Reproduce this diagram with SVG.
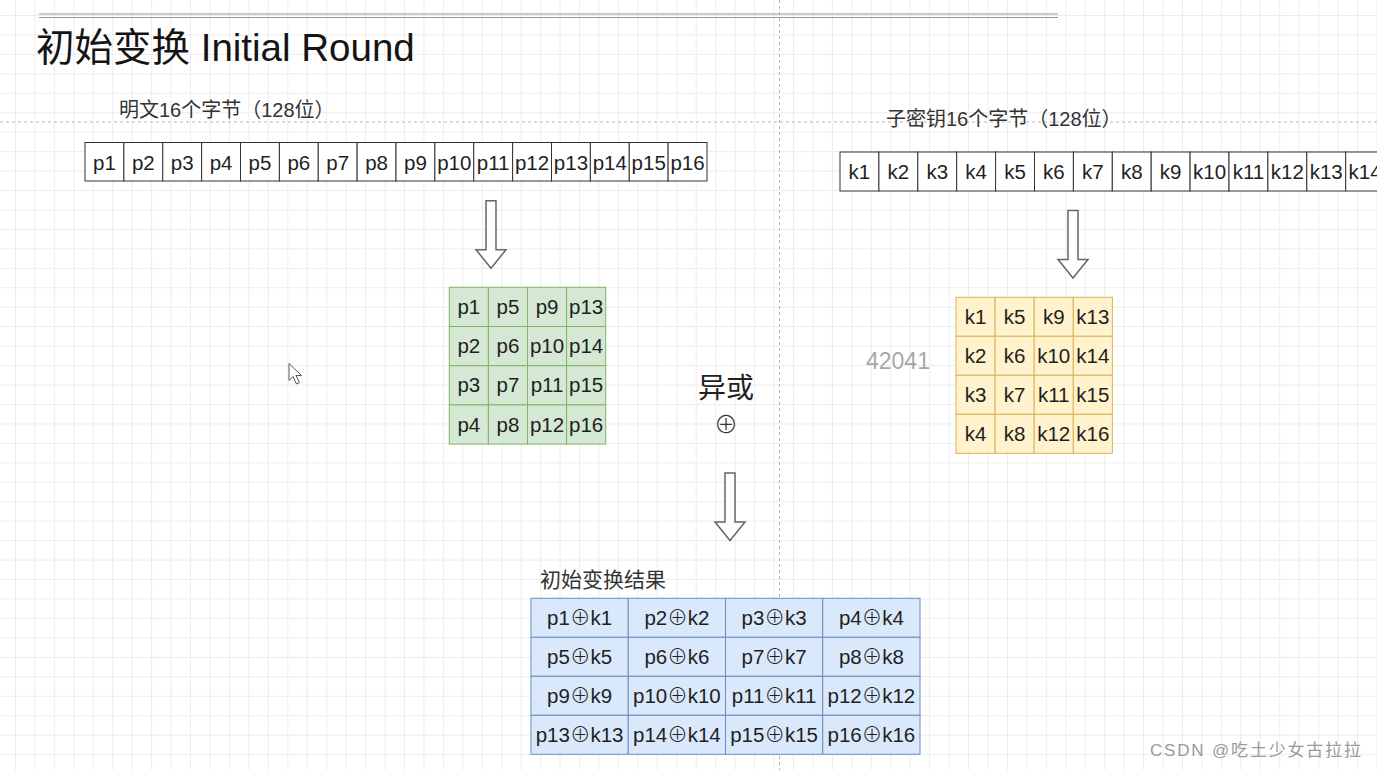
<svg xmlns="http://www.w3.org/2000/svg" width="1377" height="770" viewBox="0 0 1377 770">
<style>
text{font-family:"Liberation Sans","Noto Sans CJK SC",sans-serif;}
.c{font-size:20.5px;fill:#1f1f1f;text-anchor:middle;}
.x{font-family:"Noto Sans CJK SC","DejaVu Sans",sans-serif;font-weight:300;}
.wc{fill:#ffffff;stroke:#333333;stroke-width:1;}
.gc{fill:#d5e8d4;stroke:#82b366;stroke-width:1;}
.yc{fill:#fff2cc;stroke:#d6b656;stroke-width:1;}
.bc{fill:#dae8fc;stroke:#6c8ebf;stroke-width:1;}
.lbl{font-size:20px;fill:#333333;}
.arr{fill:#ffffff;stroke:#666666;stroke-width:1.5;}
</style>
<defs>
<pattern id="grid" x="15" y="15" width="19.45" height="19.45" patternUnits="userSpaceOnUse">
<path d="M0 0.5H19.45M0.5 0V19.45" fill="none" stroke="#ececec" stroke-width="1"/>
</pattern>
<path id="dn" d="M-5 0H5V49H15L0 67.5L-15 49H-5Z"/>
</defs>
<rect width="1377" height="770" fill="#ffffff"/>
<rect width="1377" height="770" fill="url(#grid)"/>
<g id="guides" fill="none" stroke="#b8b8b8" stroke-width="1" stroke-dasharray="3 3">
<line x1="0" y1="122" x2="1377" y2="122"/>
<line x1="779.5" y1="0" x2="779.5" y2="770"/>
</g>
<g id="topline" stroke="#999999" stroke-width="1.2">
<line x1="39" y1="14" x2="1058" y2="14"/>
<line x1="39" y1="17.5" x2="1058" y2="17.5"/>
</g>
<g id="title"><text x="36" y="61" font-size="38.5" fill="#141414">初始变换 Initial Round</text></g>
<g id="label-plain"><text class="lbl" x="119" y="117">明文16个字节（128位）</text></g>
<g id="label-key"><text class="lbl" x="886" y="126">子密钥16个字节（128位）</text></g>

<g id="plain-row">
<rect class="wc" x="85" y="142.5" width="38.875" height="38.5"/><text class="c" x="104.44" y="169.5">p1</text>
<rect class="wc" x="123.875" y="142.5" width="38.875" height="38.5"/><text class="c" x="143.31" y="169.5">p2</text>
<rect class="wc" x="162.75" y="142.5" width="38.875" height="38.5"/><text class="c" x="182.19" y="169.5">p3</text>
<rect class="wc" x="201.625" y="142.5" width="38.875" height="38.5"/><text class="c" x="221.06" y="169.5">p4</text>
<rect class="wc" x="240.5" y="142.5" width="38.875" height="38.5"/><text class="c" x="259.94" y="169.5">p5</text>
<rect class="wc" x="279.375" y="142.5" width="38.875" height="38.5"/><text class="c" x="298.81" y="169.5">p6</text>
<rect class="wc" x="318.25" y="142.5" width="38.875" height="38.5"/><text class="c" x="337.69" y="169.5">p7</text>
<rect class="wc" x="357.125" y="142.5" width="38.875" height="38.5"/><text class="c" x="376.56" y="169.5">p8</text>
<rect class="wc" x="396" y="142.5" width="38.875" height="38.5"/><text class="c" x="415.44" y="169.5">p9</text>
<rect class="wc" x="434.875" y="142.5" width="38.875" height="38.5"/><text class="c" x="454.31" y="169.5">p10</text>
<rect class="wc" x="473.75" y="142.5" width="38.875" height="38.5"/><text class="c" x="493.19" y="169.5">p11</text>
<rect class="wc" x="512.625" y="142.5" width="38.875" height="38.5"/><text class="c" x="532.06" y="169.5">p12</text>
<rect class="wc" x="551.5" y="142.5" width="38.875" height="38.5"/><text class="c" x="570.94" y="169.5">p13</text>
<rect class="wc" x="590.375" y="142.5" width="38.875" height="38.5"/><text class="c" x="609.81" y="169.5">p14</text>
<rect class="wc" x="629.25" y="142.5" width="38.875" height="38.5"/><text class="c" x="648.69" y="169.5">p15</text>
<rect class="wc" x="668.125" y="142.5" width="38.875" height="38.5"/><text class="c" x="687.56" y="169.5">p16</text>
</g>

<g id="key-row">
<rect class="wc" x="840" y="152" width="38.9" height="39"/><text class="c" x="859.45" y="179">k1</text>
<rect class="wc" x="878.9" y="152" width="38.9" height="39"/><text class="c" x="898.35" y="179">k2</text>
<rect class="wc" x="917.8" y="152" width="38.9" height="39"/><text class="c" x="937.25" y="179">k3</text>
<rect class="wc" x="956.7" y="152" width="38.9" height="39"/><text class="c" x="976.15" y="179">k4</text>
<rect class="wc" x="995.6" y="152" width="38.9" height="39"/><text class="c" x="1015.05" y="179">k5</text>
<rect class="wc" x="1034.5" y="152" width="38.9" height="39"/><text class="c" x="1053.95" y="179">k6</text>
<rect class="wc" x="1073.4" y="152" width="38.9" height="39"/><text class="c" x="1092.85" y="179">k7</text>
<rect class="wc" x="1112.3" y="152" width="38.9" height="39"/><text class="c" x="1131.75" y="179">k8</text>
<rect class="wc" x="1151.2" y="152" width="38.9" height="39"/><text class="c" x="1170.65" y="179">k9</text>
<rect class="wc" x="1190.1" y="152" width="38.9" height="39"/><text class="c" x="1209.55" y="179">k10</text>
<rect class="wc" x="1229" y="152" width="38.9" height="39"/><text class="c" x="1248.45" y="179">k11</text>
<rect class="wc" x="1267.9" y="152" width="38.9" height="39"/><text class="c" x="1287.35" y="179">k12</text>
<rect class="wc" x="1306.8" y="152" width="38.9" height="39"/><text class="c" x="1326.25" y="179">k13</text>
<rect class="wc" x="1345.7" y="152" width="38.9" height="39"/><text class="c" x="1365.15" y="179">k14</text>
</g>

<g id="plain-state">
<rect class="gc" x="449.3" y="287.3" width="39.1" height="39.2"/><text class="c" x="468.85" y="314">p1</text>
<rect class="gc" x="488.4" y="287.3" width="39.1" height="39.2"/><text class="c" x="507.95" y="314">p5</text>
<rect class="gc" x="527.5" y="287.3" width="39.1" height="39.2"/><text class="c" x="547.05" y="314">p9</text>
<rect class="gc" x="566.6" y="287.3" width="39.1" height="39.2"/><text class="c" x="586.15" y="314">p13</text>
<rect class="gc" x="449.3" y="326.5" width="39.1" height="39.2"/><text class="c" x="468.85" y="353.2">p2</text>
<rect class="gc" x="488.4" y="326.5" width="39.1" height="39.2"/><text class="c" x="507.95" y="353.2">p6</text>
<rect class="gc" x="527.5" y="326.5" width="39.1" height="39.2"/><text class="c" x="547.05" y="353.2">p10</text>
<rect class="gc" x="566.6" y="326.5" width="39.1" height="39.2"/><text class="c" x="586.15" y="353.2">p14</text>
<rect class="gc" x="449.3" y="365.7" width="39.1" height="39.2"/><text class="c" x="468.85" y="392.4">p3</text>
<rect class="gc" x="488.4" y="365.7" width="39.1" height="39.2"/><text class="c" x="507.95" y="392.4">p7</text>
<rect class="gc" x="527.5" y="365.7" width="39.1" height="39.2"/><text class="c" x="547.05" y="392.4">p11</text>
<rect class="gc" x="566.6" y="365.7" width="39.1" height="39.2"/><text class="c" x="586.15" y="392.4">p15</text>
<rect class="gc" x="449.3" y="404.9" width="39.1" height="39.2"/><text class="c" x="468.85" y="431.6">p4</text>
<rect class="gc" x="488.4" y="404.9" width="39.1" height="39.2"/><text class="c" x="507.95" y="431.6">p8</text>
<rect class="gc" x="527.5" y="404.9" width="39.1" height="39.2"/><text class="c" x="547.05" y="431.6">p12</text>
<rect class="gc" x="566.6" y="404.9" width="39.1" height="39.2"/><text class="c" x="586.15" y="431.6">p16</text>
</g>

<g id="key-state">
<rect class="yc" x="956" y="297.3" width="39.1" height="39"/><text class="c" x="975.55" y="324">k1</text>
<rect class="yc" x="995.1" y="297.3" width="39.1" height="39"/><text class="c" x="1014.65" y="324">k5</text>
<rect class="yc" x="1034.2" y="297.3" width="39.1" height="39"/><text class="c" x="1053.75" y="324">k9</text>
<rect class="yc" x="1073.3" y="297.3" width="39.1" height="39"/><text class="c" x="1092.85" y="324">k13</text>
<rect class="yc" x="956" y="336.3" width="39.1" height="39"/><text class="c" x="975.55" y="363">k2</text>
<rect class="yc" x="995.1" y="336.3" width="39.1" height="39"/><text class="c" x="1014.65" y="363">k6</text>
<rect class="yc" x="1034.2" y="336.3" width="39.1" height="39"/><text class="c" x="1053.75" y="363">k10</text>
<rect class="yc" x="1073.3" y="336.3" width="39.1" height="39"/><text class="c" x="1092.85" y="363">k14</text>
<rect class="yc" x="956" y="375.3" width="39.1" height="39"/><text class="c" x="975.55" y="402">k3</text>
<rect class="yc" x="995.1" y="375.3" width="39.1" height="39"/><text class="c" x="1014.65" y="402">k7</text>
<rect class="yc" x="1034.2" y="375.3" width="39.1" height="39"/><text class="c" x="1053.75" y="402">k11</text>
<rect class="yc" x="1073.3" y="375.3" width="39.1" height="39"/><text class="c" x="1092.85" y="402">k15</text>
<rect class="yc" x="956" y="414.3" width="39.1" height="39"/><text class="c" x="975.55" y="441">k4</text>
<rect class="yc" x="995.1" y="414.3" width="39.1" height="39"/><text class="c" x="1014.65" y="441">k8</text>
<rect class="yc" x="1034.2" y="414.3" width="39.1" height="39"/><text class="c" x="1053.75" y="441">k12</text>
<rect class="yc" x="1073.3" y="414.3" width="39.1" height="39"/><text class="c" x="1092.85" y="441">k16</text>
</g>

<g id="num-42041"><text x="866" y="368.5" font-size="23" fill="#a8a8a8">42041</text></g>

<g id="xor-label">
<text x="726" y="398" font-size="28" fill="#222222" text-anchor="middle">异或</text>
<text class="x" x="726" y="433" font-size="24" fill="#333333" text-anchor="middle">⊕</text>
</g>

<g id="result-label"><text x="540" y="587" font-size="21" fill="#333333">初始变换结果</text></g>

<g id="result">
<rect class="bc" x="531" y="598.3" width="97.25" height="39"/><text class="c" x="579.6" y="625">p1<tspan class="x">⊕</tspan>k1</text>
<rect class="bc" x="628.25" y="598.3" width="97.25" height="39"/><text class="c" x="676.9" y="625">p2<tspan class="x">⊕</tspan>k2</text>
<rect class="bc" x="725.5" y="598.3" width="97.25" height="39"/><text class="c" x="774.1" y="625">p3<tspan class="x">⊕</tspan>k3</text>
<rect class="bc" x="822.75" y="598.3" width="97.25" height="39"/><text class="c" x="871.4" y="625">p4<tspan class="x">⊕</tspan>k4</text>
<rect class="bc" x="531" y="637.3" width="97.25" height="39"/><text class="c" x="579.6" y="664">p5<tspan class="x">⊕</tspan>k5</text>
<rect class="bc" x="628.25" y="637.3" width="97.25" height="39"/><text class="c" x="676.9" y="664">p6<tspan class="x">⊕</tspan>k6</text>
<rect class="bc" x="725.5" y="637.3" width="97.25" height="39"/><text class="c" x="774.1" y="664">p7<tspan class="x">⊕</tspan>k7</text>
<rect class="bc" x="822.75" y="637.3" width="97.25" height="39"/><text class="c" x="871.4" y="664">p8<tspan class="x">⊕</tspan>k8</text>
<rect class="bc" x="531" y="676.3" width="97.25" height="39"/><text class="c" x="579.6" y="703">p9<tspan class="x">⊕</tspan>k9</text>
<rect class="bc" x="628.25" y="676.3" width="97.25" height="39"/><text class="c" x="676.9" y="703">p10<tspan class="x">⊕</tspan>k10</text>
<rect class="bc" x="725.5" y="676.3" width="97.25" height="39"/><text class="c" x="774.1" y="703">p11<tspan class="x">⊕</tspan>k11</text>
<rect class="bc" x="822.75" y="676.3" width="97.25" height="39"/><text class="c" x="871.4" y="703">p12<tspan class="x">⊕</tspan>k12</text>
<rect class="bc" x="531" y="715.3" width="97.25" height="39"/><text class="c" x="579.6" y="742">p13<tspan class="x">⊕</tspan>k13</text>
<rect class="bc" x="628.25" y="715.3" width="97.25" height="39"/><text class="c" x="676.9" y="742">p14<tspan class="x">⊕</tspan>k14</text>
<rect class="bc" x="725.5" y="715.3" width="97.25" height="39"/><text class="c" x="774.1" y="742">p15<tspan class="x">⊕</tspan>k15</text>
<rect class="bc" x="822.75" y="715.3" width="97.25" height="39"/><text class="c" x="871.4" y="742">p16<tspan class="x">⊕</tspan>k16</text>
</g>

<g id="connectors">
<use href="#dn" class="arr" transform="translate(491 200.7)"/>
<use href="#dn" class="arr" transform="translate(1073 210.5)"/>
<use href="#dn" class="arr" transform="translate(730 473)"/>
</g>

<g id="cursor"><path d="M289 363.5V380.5L293 376.5L296.5 384L299.5 382.5L296 375.5H301.5Z" fill="#ffffff" stroke="#555555" stroke-width="1"/></g>

<g id="watermark"><text x="1150" y="756" font-size="17" fill="#9a9a9a" textLength="211" lengthAdjust="spacing">CSDN @吃土少女古拉拉</text></g>
</svg>
